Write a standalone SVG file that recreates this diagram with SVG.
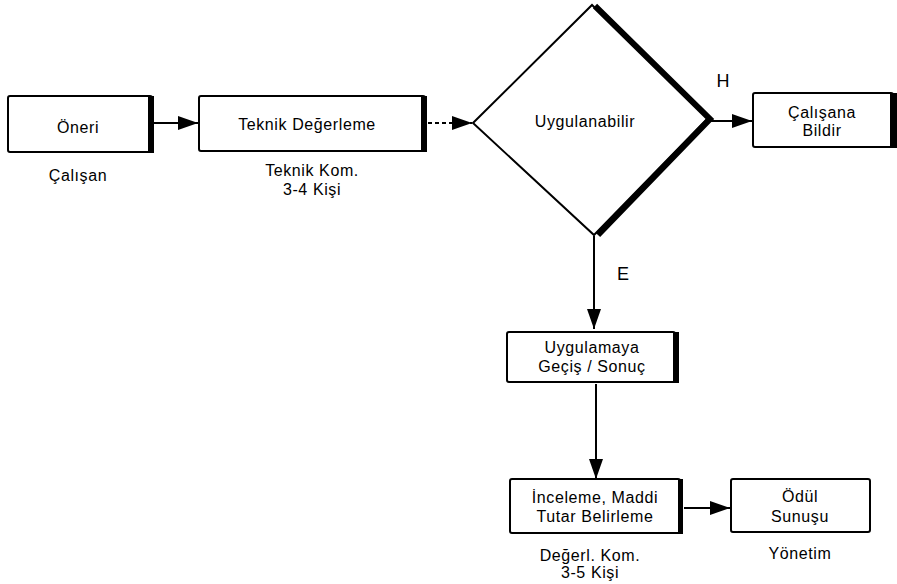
<svg xmlns="http://www.w3.org/2000/svg" width="897" height="584" viewBox="0 0 897 584">
<style>
.box{fill:#fff;stroke:#000;stroke-width:2}
.bar{fill:#000}
.t{font-family:"Liberation Sans",Arial,sans-serif;font-size:16px;fill:#000;text-anchor:middle;letter-spacing:0.6px}
.lbl{font-family:"Liberation Sans",Arial,sans-serif;font-size:18px;fill:#000;text-anchor:middle}
.ln{stroke:#000;stroke-width:2;fill:none}
</style>
<defs>
<marker id="ah" viewBox="0 0 20 14" refX="20" refY="7" markerWidth="20" markerHeight="14" markerUnits="userSpaceOnUse" orient="auto">
<path d="M0,0 L20,7 L0,14 Z" fill="#000"/>
</marker>
</defs>
<rect width="897" height="584" fill="#fff"/>
<g id="connectors">
<line class="ln" x1="154" y1="123" x2="198" y2="123" marker-end="url(#ah)"/>
<line class="ln" x1="428" y1="123" x2="472" y2="123" stroke-dasharray="4,3" marker-end="url(#ah)"/>
<line class="ln" x1="710" y1="121" x2="752" y2="121" marker-end="url(#ah)"/>
<line class="ln" x1="594" y1="236" x2="594" y2="329" marker-end="url(#ah)"/>
<line class="ln" x1="596" y1="384" x2="596" y2="479" marker-end="url(#ah)"/>
<line class="ln" x1="684" y1="508" x2="730" y2="508" marker-end="url(#ah)"/>
<text class="lbl" x="723" y="87">H</text>
<text class="lbl" x="623" y="280">E</text>
</g>
<g id="oneri">
<rect class="box" x="8" y="96" width="144" height="56" rx="2"/>
<rect class="bar" x="148" y="96" width="6" height="57"/>
<text class="t" x="78" y="133">Öneri</text>
<text class="t" x="78" y="181">Çalışan</text>
</g>
<g id="teknik">
<rect class="box" x="199" y="96" width="226" height="55" rx="2"/>
<rect class="bar" x="421" y="96" width="6" height="56"/>
<text class="t" x="307" y="130">Teknik Değerleme</text>
<text class="t" x="312" y="176">Teknik Kom.</text>
<text class="t" x="312" y="195">3-4 Kişi</text>
</g>
<g id="uygulanabilir">
<polygon class="box" points="473,123 592,5 708,118 594,235"/>
<polyline points="595,6 710,119 598,235" fill="none" stroke="#000" stroke-width="6"/>
<text class="t" x="585" y="127">Uygulanabilir</text>
</g>
<g id="calisana">
<rect class="box" x="753" y="93" width="140" height="54" rx="2"/>
<rect class="bar" x="890" y="93" width="7" height="55"/>
<text class="t" x="822" y="118">Çalışana</text>
<text class="t" x="822" y="136">Bildir</text>
</g>
<g id="uygulamaya">
<rect class="box" x="507" y="332" width="168" height="50" rx="2"/>
<rect class="bar" x="673" y="332" width="6" height="51"/>
<text class="t" x="592" y="353">Uygulamaya</text>
<text class="t" x="592" y="372">Geçiş / Sonuç</text>
</g>
<g id="inceleme">
<rect class="box" x="510" y="479" width="170" height="54" rx="2"/>
<rect class="bar" x="678" y="479" width="5" height="55"/>
<text class="t" x="595" y="503">İnceleme, Maddi</text>
<text class="t" x="595" y="522">Tutar Belirleme</text>
<text class="t" x="590" y="561">Değerl. Kom.</text>
<text class="t" x="590" y="578">3-5 Kişi</text>
</g>
<g id="odul">
<rect class="box" x="731" y="479" width="139" height="53" rx="2"/>
<text class="t" x="800" y="502">Ödül</text>
<text class="t" x="800" y="522">Sunuşu</text>
<text class="t" x="800" y="559">Yönetim</text>
</g>
</svg>
